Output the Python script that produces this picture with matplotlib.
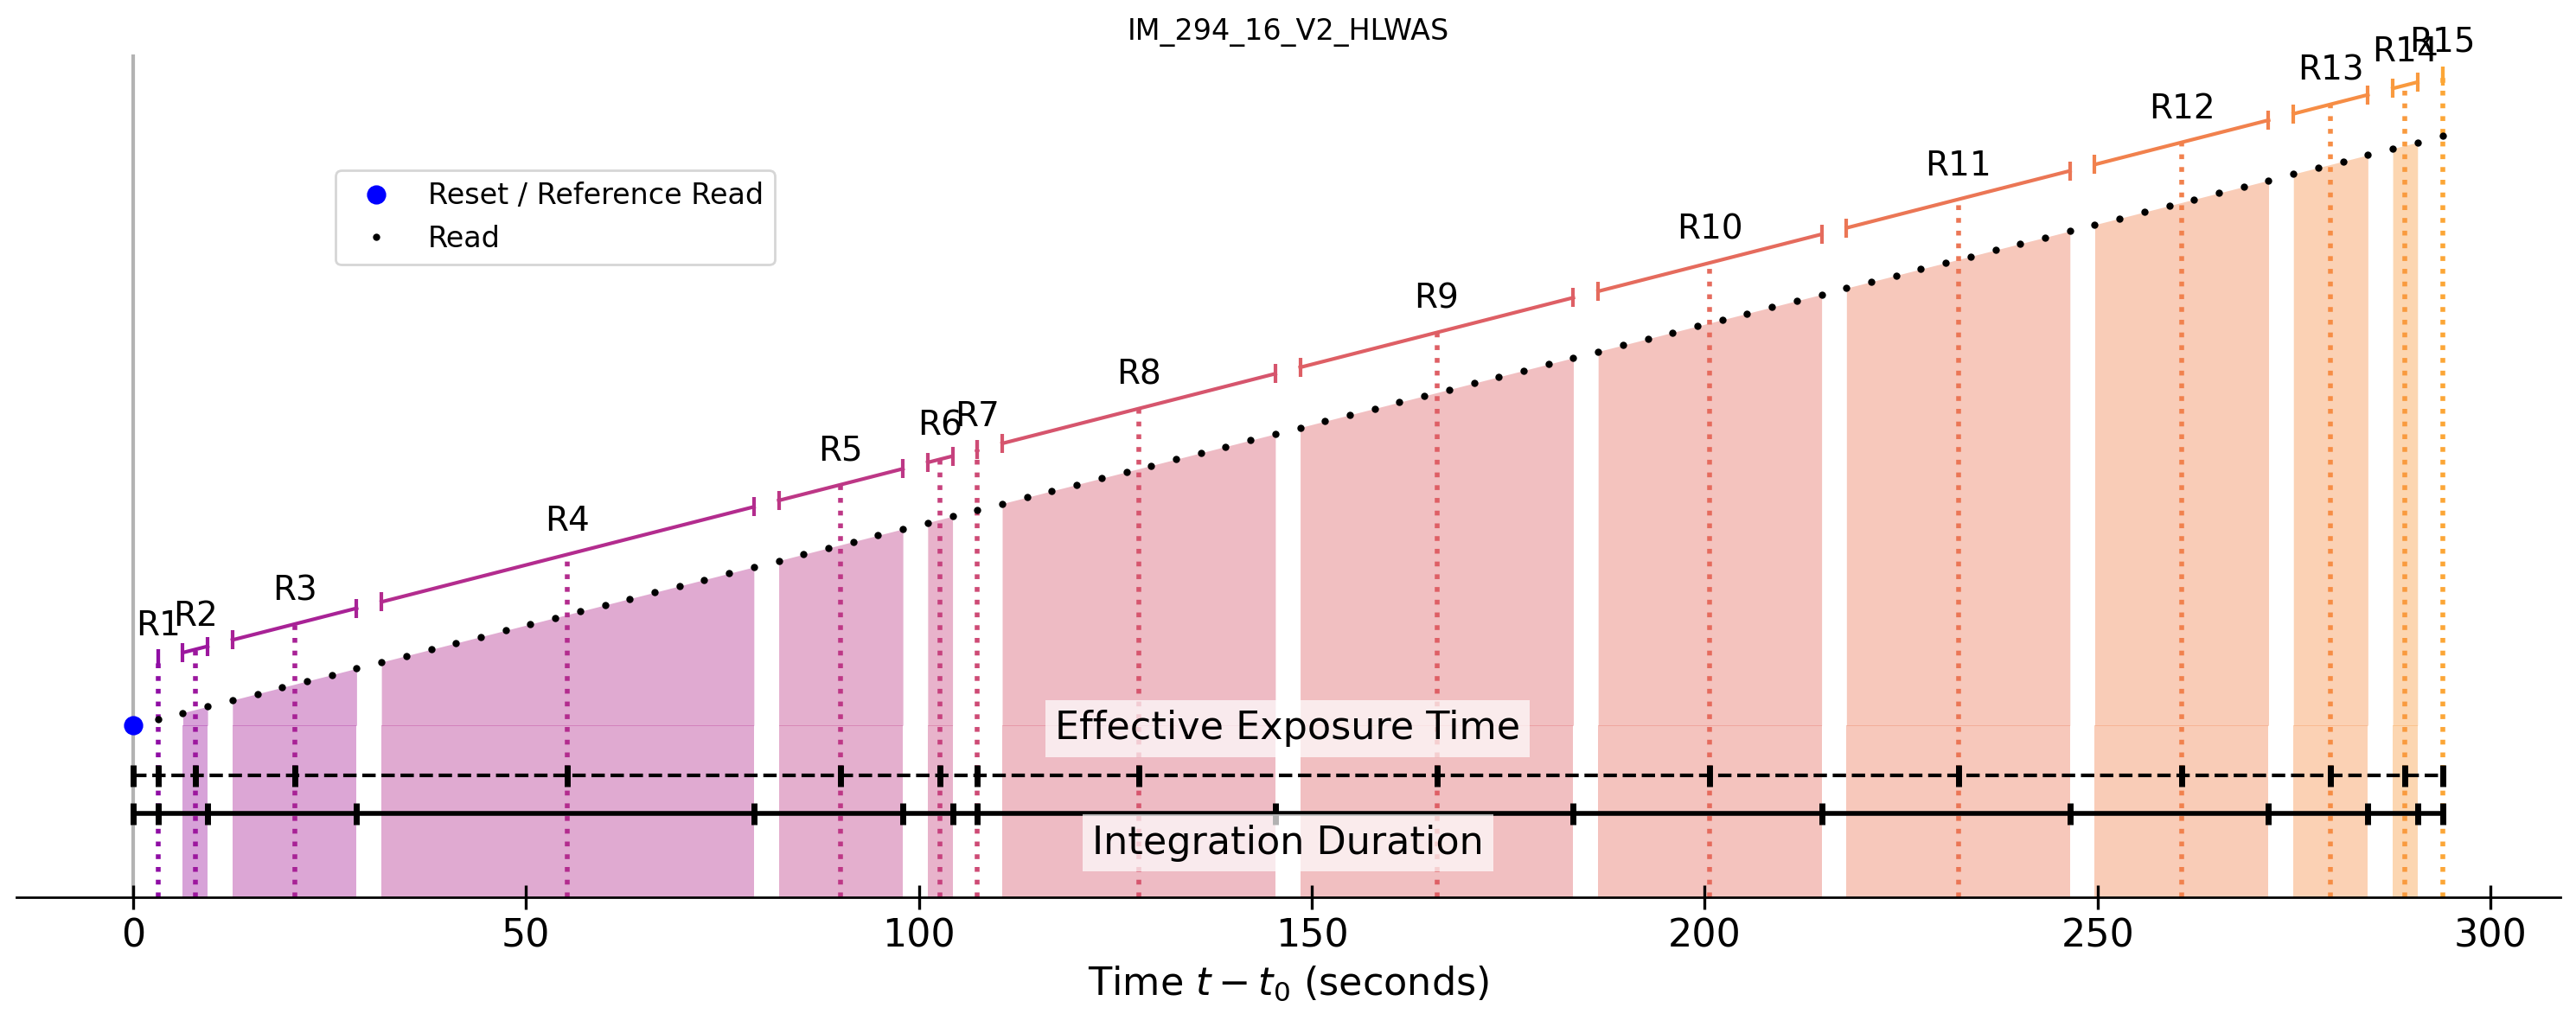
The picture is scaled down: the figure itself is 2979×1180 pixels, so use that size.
import numpy as np
import matplotlib
matplotlib.use("Agg")
import matplotlib.pyplot as plt

# ---- data ----
title = "IM_294_16_V2_HLWAS"
frame_time = 3.16            # seconds between reads
count_rate = 1.0             # ramp slope (arbitrary units per second)
first_read = [1, 2, 4, 10, 26, 32, 34, 35, 47, 59, 69, 79, 87, 91, 93]
last_read = [1, 3, 9, 25, 31, 33, 34, 46, 58, 68, 78, 86, 90, 92, 93]
res_labels = ["R1", "R2", "R3", "R4", "R5", "R6", "R7", "R8", "R9", "R10",
              "R11", "R12", "R13", "R14", "R15"]
xtick_vals = [0, 50, 100, 150, 200, 250, 300]

# ---- layout ----
W, H, DPI = 2979, 1180, 200
fig = plt.figure(figsize=(W / DPI, H / DPI), dpi=DPI)
ax_l, ax_r, ax_t, ax_b = 19, 2961, 63, 1037.7
ax = fig.add_axes([ax_l / W, (H - ax_b) / H, (ax_r - ax_l) / W, (ax_b - ax_t) / H])
YMIN, YMAX = -85.5, 334.5
ax.set_xlim(-14.85, 308.9)
ax.set_ylim(YMIN, YMAX)

offset = 30.0
eff_y = -24.7
int_y = -43.7

colors = plt.cm.plasma(np.linspace(0.3, 0.8, len(first_read)))

ax.axvline(0, color="#b3b3b3", lw=1.5, zorder=1)

means, ends = [], []
for i, (a, b) in enumerate(zip(first_read, last_read)):
    t = frame_time * np.arange(a, b + 1)
    y = count_rate * t
    c = colors[i]
    if len(t) > 1:
        ax.fill_between(t, 0, y, color=c, alpha=0.4, lw=0, zorder=1)
        ax.fill_between(t, YMIN, 0, color=c, alpha=0.4, lw=0, zorder=1)
    ax.plot(t, y + offset, color=c, lw=1.5, marker="|", ms=8, mew=1.5,
            markevery=[0, len(t) - 1], zorder=2)
    tm = t.mean()
    ym = count_rate * tm + offset
    ax.vlines(tm, YMIN, ym, colors=[c], linestyles=":", lw=2, zorder=2)
    ax.text(tm, ym + 8.5, res_labels[i], ha="center", va="bottom", fontsize=14)
    means.append(tm)
    ends.append(t[-1])

t_all = frame_time * np.arange(1, last_read[-1] + 1)
ax.plot([0], [0], "o", color="blue", ms=7, ls="none",
        label="Reset / Reference Read", zorder=4)
ax.plot(t_all, count_rate * t_all, ".", color="k", ms=4, ls="none",
        label="Read", zorder=4)

t_end = ends[-1]
ax.plot([0, t_end], [eff_y, eff_y], color="k", ls="--", lw=1.5, zorder=2)
ax.plot([0] + means, [eff_y] * (len(means) + 1), ls="none", marker="|",
        ms=9, mew=2.5, color="k", zorder=2)
ax.plot([0, t_end], [int_y, int_y], color="k", ls="-", lw=2, zorder=2)
ax.plot([0] + ends, [int_y] * (len(ends) + 1), ls="none", marker="|",
        ms=9, mew=2.5, color="k", zorder=2)

box = dict(facecolor="white", alpha=0.7, edgecolor="none")
ax.text(t_end / 2, -1.6, "Effective Exposure Time", ha="center", va="center",
        fontsize=16, bbox=box, zorder=5)
ax.text(t_end / 2, -58.5, "Integration Duration", ha="center", va="center",
        fontsize=16, bbox=box, zorder=5)

ax.legend(loc="upper left", bbox_to_anchor=(0.1254, 0.8625), borderaxespad=0,
          fontsize=12)

for s in ["left", "top", "right"]:
    ax.spines[s].set_visible(False)
ax.spines["bottom"].set_linewidth(1.0)
ax.set_yticks([])
ax.set_xticks(xtick_vals)
ax.tick_params(axis="x", direction="inout", length=10, width=1.2, labelsize=16)
ax.set_xlabel("Time $t - t_0$ (seconds)", fontsize=16)
ax.set_title(title, fontsize=12)

fig.savefig("out.png", dpi=DPI)
